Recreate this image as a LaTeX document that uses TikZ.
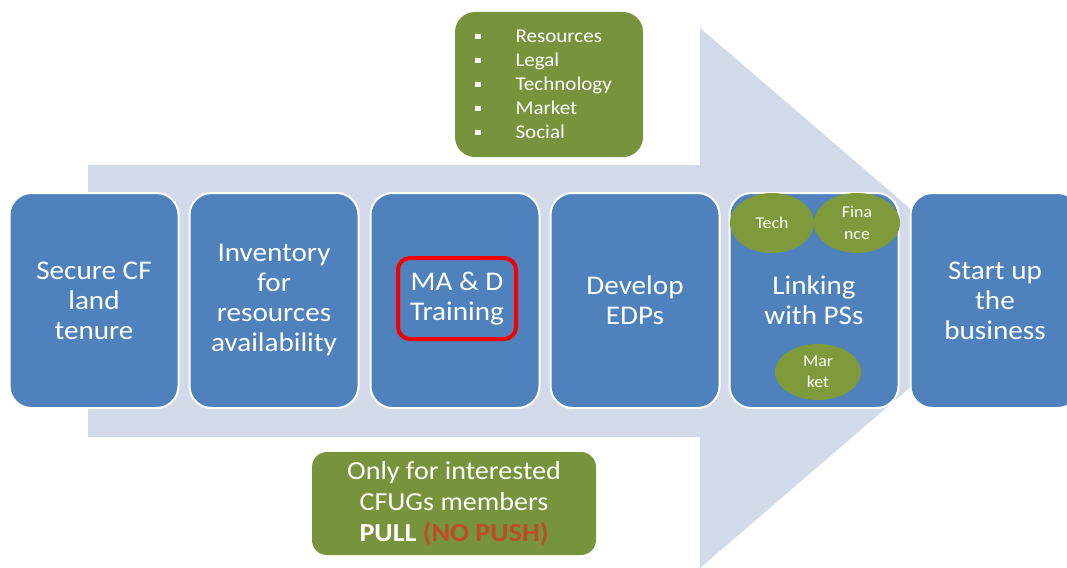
\documentclass[tikz,border=0pt]{standalone}
\usepackage{fontspec}
\setmainfont{Carlito}[FakeStretch=1.08]
\usetikzlibrary{shapes.geometric}
\definecolor{stepblue}{HTML}{4F81BD}
\definecolor{arrowfill}{HTML}{D2D9E9}
\definecolor{olivebox}{HTML}{77933C}
\definecolor{ellgreen}{HTML}{7F9A3B}
\definecolor{hired}{HTML}{F00000}
\definecolor{nopush}{RGB}{190,75,35}
\newcommand{\itembullet}{\raisebox{3.5pt}{\rule{5.5pt}{5.5pt}}\hspace{35pt}}

\begin{document}
\begin{tikzpicture}[x=1pt,y=-1pt,
  steptext/.style={text=white, align=center, font=\fontsize{27}{30}\selectfont},
  stepbox/.style={steptext, draw=white, line width=2pt, fill=stepblue,
    rounded corners=22pt, minimum width=169pt, minimum height=215pt, inner sep=0pt},
  greenbox/.style={fill=olivebox, text=white, inner sep=0pt},
  partner/.style={ellipse, fill=ellgreen, text=white, inner sep=0pt, align=center,
    font=\fontsize{16.5}{21.5}\selectfont},
  highlight/.style={steptext, draw=hired, line width=4pt, rounded corners=12pt,
    minimum width=118pt, minimum height=81pt, inner sep=0pt}
]
\useasboundingbox (0,0) rectangle (1067,567);
\fill[white] (0,0) rectangle (1067,567);

% broad process arrow behind the steps
\fill[arrowfill] (88,165) -- (700,165) -- (700,28) -- (1014,298)
  -- (700,568) -- (700,437) -- (88,437) -- cycle;

% the six steps
\node[stepbox] (b1) at (94,300.5) {Secure CF\\land\\tenure};
\node[stepbox] (b2) at (274,300.5) {Inventory\\for\\resources\\availability};
\node[stepbox] (b3) at (455,300.5) {};
\node[stepbox] (b4) at (635,300.5) {Develop\\EDPs};
\node[stepbox] (b5) at (814,300.5) {Linking\\with PSs};
\node[stepbox] (b6) at (995,300.5) {Start up\\the\\business};

% highlighted training step
\node[highlight] (hl) at (457,298.5) {MA \& D\\Training};

% private-sector partners
\node[partner, minimum width=84pt, minimum height=60pt] (tech) at (772,223) {Tech};
\node[partner, minimum width=86pt, minimum height=60pt] (fin) at (857,223) {Fina\\nce};
\node[partner, minimum width=86pt, minimum height=56pt] (mkt) at (818,372) {Mar\\ket};

% training topics
\node[greenbox, rounded corners=20pt, minimum height=145pt, text width=148pt,
  inner xsep=20pt, align=left, font=\fontsize{19.5}{24}\selectfont] (topics) at (549,84.5)
  {\itembullet Resources\\\itembullet Legal\\\itembullet Technology\\\itembullet Market\\\itembullet Social};

% participation note
\node[greenbox, rounded corners=15pt, minimum width=284pt, minimum height=103pt,
  align=center, font=\fontsize{26}{31}\selectfont] (pull) at (454,503.5)
  {Only for interested\\CFUGs members\\\textbf{PULL} \textcolor{nopush}{\textbf{(NO PUSH)}}};
\end{tikzpicture}
\end{document}
